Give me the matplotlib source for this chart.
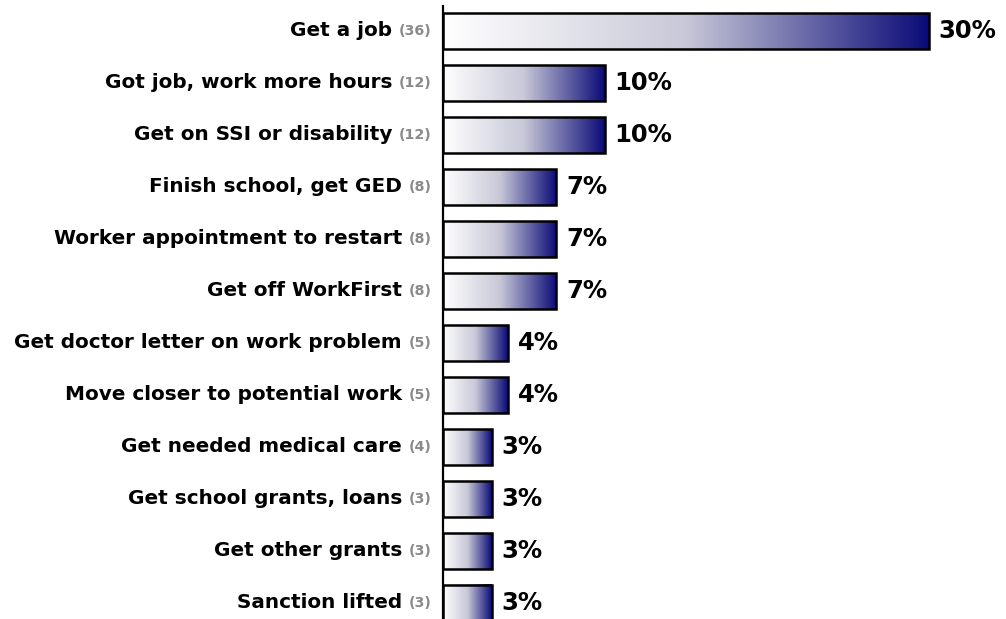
import numpy as np
import matplotlib
matplotlib.use("Agg")
import matplotlib.pyplot as plt
from matplotlib.colors import LinearSegmentedColormap

categories = [
    "Get a job",
    "Got job, work more hours",
    "Get on SSI or disability",
    "Finish school, get GED",
    "Worker appointment to restart",
    "Get off WorkFirst",
    "Get doctor letter on work problem",
    "Move closer to potential work",
    "Get needed medical care",
    "Get school grants, loans",
    "Get other grants",
    "Sanction lifted",
]
counts = [36, 12, 12, 8, 8, 8, 5, 5, 4, 3, 3, 3]
percents = [30, 10, 10, 7, 7, 7, 4, 4, 3, 3, 3, 3]

W, H = 1006, 619
fig = plt.figure(figsize=(W / 100, H / 100), dpi=100)
ax = fig.add_axes([443 / W, 0, (W - 443) / W, (H - 6) / H])

cmap = LinearSegmentedColormap.from_list("fade", ["#ffffff", "#c8c8d8", "#0b0b78"])
grad = np.linspace(0, 1, 256).reshape(1, -1)
bar_h = 0.69

for i, (p, c, lab) in enumerate(zip(percents, counts, categories)):
    y0, y1 = i - bar_h / 2, i + bar_h / 2
    ax.imshow(grad, cmap=cmap, aspect="auto", extent=(0, p, y1, y0),
              interpolation="bilinear", zorder=2)
    ax.add_patch(plt.Rectangle((0, y0), p, bar_h, fill=False,
                               edgecolor="black", linewidth=1.8, zorder=3))
    ax.annotate(f"{p}%", xy=(p, i), xytext=(7, 0), textcoords="offset points",
                ha="left", va="center", fontsize=17.5, fontweight="bold",
                color="black", annotation_clip=False)

ax.set_xlim(0, (W - 443) / 16.2)
ax.set_ylim(11.31, -0.48)
for s in ["top", "right", "bottom"]:
    ax.spines[s].set_visible(False)
ax.spines["left"].set_linewidth(1.6)
ax.set_xticks([])
ax.set_yticks([])

# category labels with grey response counts
fig.canvas.draw()
renderer = fig.canvas.get_renderer()
ax_left = ax.get_window_extent(renderer).x0
for i, (c, lab) in enumerate(zip(counts, categories)):
    ct = ax.annotate(f"({c})", xy=(0, i), xytext=(-8, 0), textcoords="offset points",
                     ha="right", va="center", fontsize=10.3, fontweight="bold",
                     color="#8a8a8a", annotation_clip=False)
    bb = ct.get_window_extent(renderer)
    gap_pts = (ax_left - bb.x0) * 72 / fig.dpi + 5
    ax.annotate(lab, xy=(0, i), xytext=(-gap_pts, 0), textcoords="offset points",
                ha="right", va="center", fontsize=14.4, fontweight="bold",
                color="black", annotation_clip=False)

fig.savefig("out.png", dpi=100)
